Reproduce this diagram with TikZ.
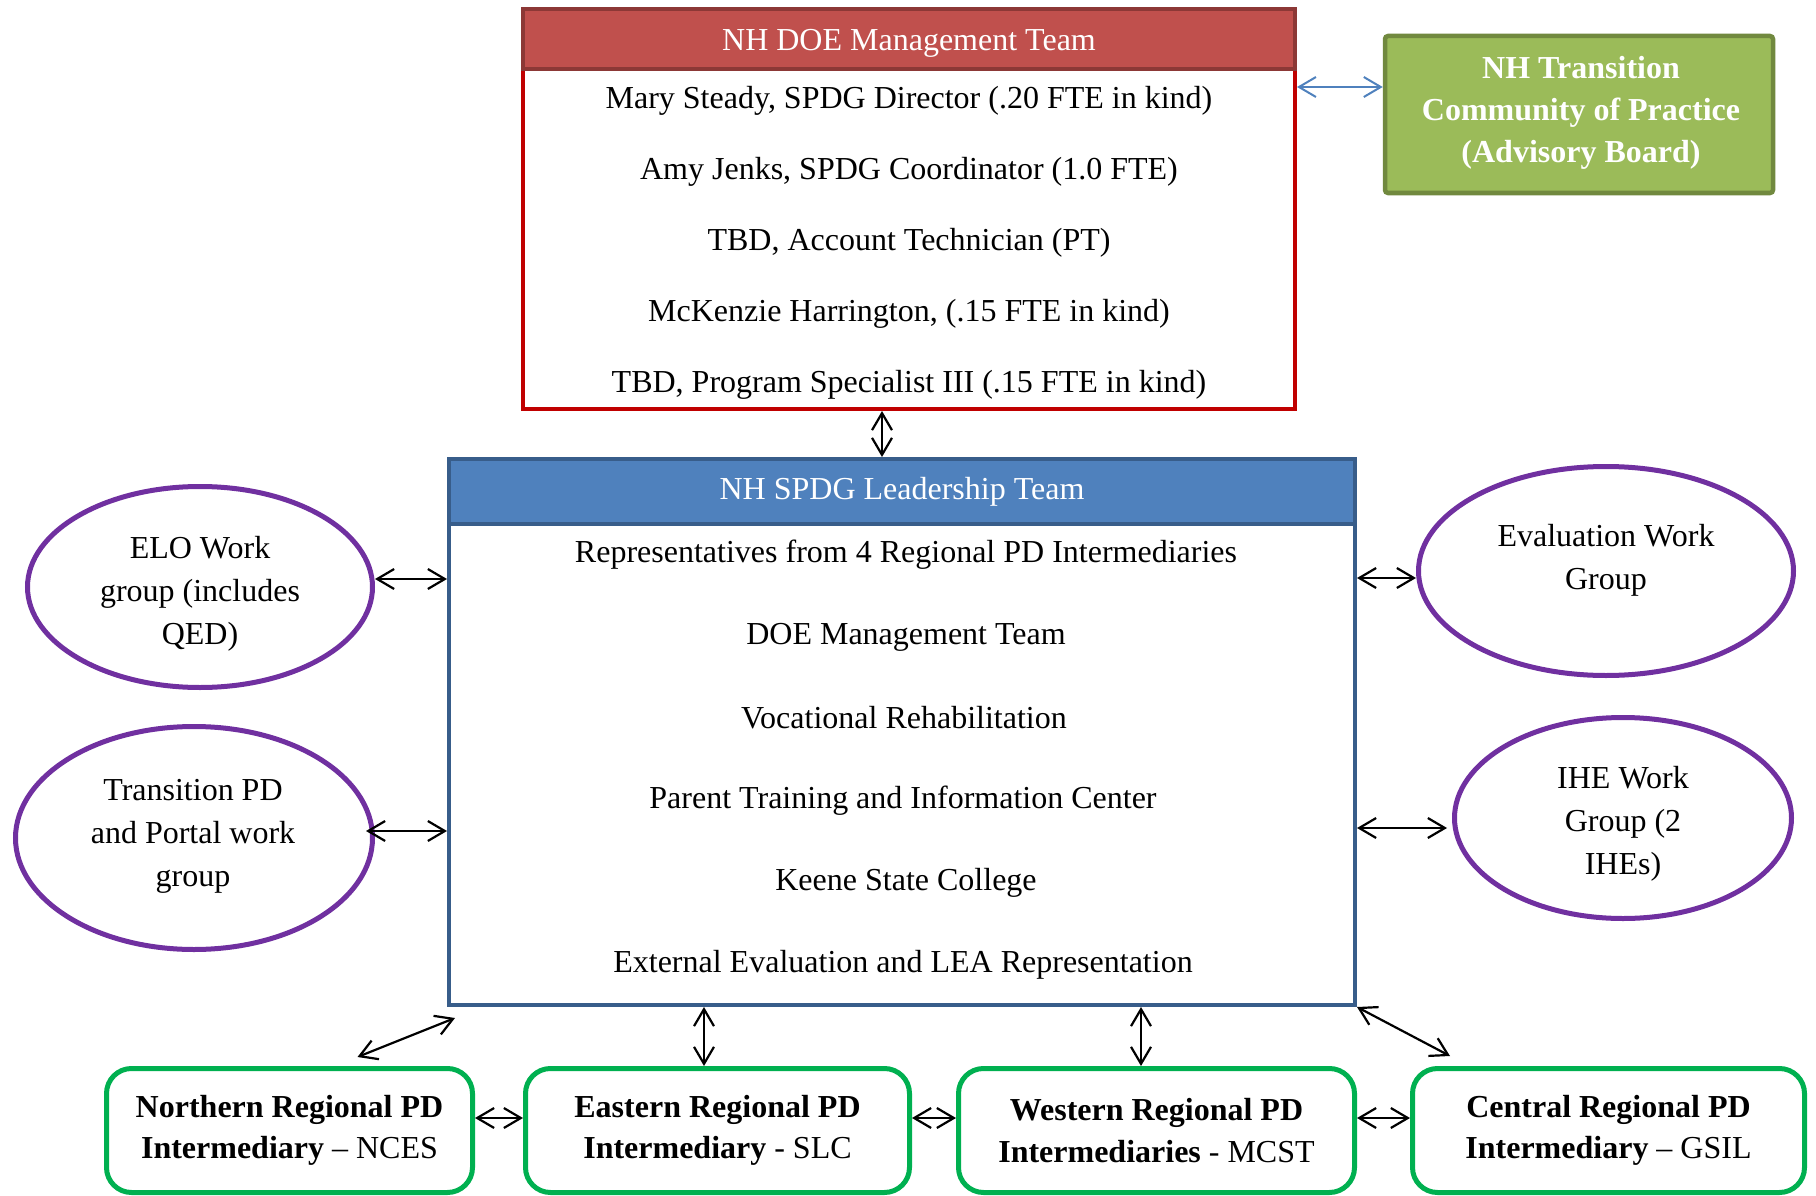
\documentclass[tikz,border=0pt]{standalone}
\usepackage{fontspec}
\setmainfont{Liberation Serif}
\usetikzlibrary{arrows.meta,shapes.geometric}
\definecolor{doeHeadFill}{HTML}{C0504D}
\definecolor{doeHeadLine}{HTML}{8C3836}
\definecolor{doeLine}{HTML}{C00000}
\definecolor{leadHeadFill}{HTML}{4F81BD}
\definecolor{leadLine}{HTML}{385D8A}
\definecolor{copFill}{HTML}{9BBB59}
\definecolor{copLine}{HTML}{71893F}
\definecolor{ellLine}{HTML}{7030A0}
\definecolor{regLine}{HTML}{00B050}
\definecolor{blueArr}{HTML}{4F81BD}
\begin{document}
\begin{tikzpicture}[x=1pt,y=-1pt,
  txt/.style={font=\fontsize{32}{43}\selectfont, inner sep=0pt, align=center},
  arr/.style={draw=black, line width=2.2pt,
    {Straight Barb[length=17pt,width=20pt]}-{Straight Barb[length=17pt,width=20pt]}},
  barr/.style={draw=blueArr, line width=2pt,
    {Straight Barb[length=17pt,width=20pt]}-{Straight Barb[length=17pt,width=20pt]}},
  wg/.style={ellipse, draw=ellLine, line width=5pt, inner sep=0pt},
  reg/.style={rectangle, rounded corners=25pt, draw=regLine, line width=5pt, fill=white,
    minimum height=124pt, inner sep=0pt, align=center, font=\fontsize{32}{41.5}\selectfont},
  head/.style={rectangle, line width=4pt, inner sep=0pt, text=white,
    font=\fontsize{32}{43}\selectfont},
]
\useasboundingbox (0,0) rectangle (1816,1196);

% NH DOE Management Team
\node[rectangle, draw=doeLine, line width=4pt, fill=white, minimum width=772pt, minimum height=400pt] (doe) at (909,209) {};
\node[head, fill=doeHeadFill, draw=doeHeadLine, minimum width=772pt, minimum height=60pt] (doehead) at (909,39) {};
\node[txt, text=white] (doetitle) at (909,43) {NH DOE Management Team};
\node[txt] (d1) at (909,101) {Mary Steady, SPDG Director (.20 FTE in kind)};
\node[txt] (d2) at (909,172) {Amy Jenks, SPDG Coordinator (1.0 FTE)};
\node[txt] (d3) at (909,243) {TBD, Account Technician (PT)};
\node[txt] (d4) at (909,314) {McKenzie Harrington, (.15 FTE in kind)};
\node[txt] (d5) at (909,385) {TBD, Program Specialist III (.15 FTE in kind)};

% Transition Community of Practice
\node[rectangle, rounded corners=3pt, draw=copLine, fill=copFill, line width=4.5pt, minimum width=388pt, minimum height=157pt] (cop) at (1579,114.5) {};
\node[txt, text=white, font=\fontsize{32}{42}\selectfont\bfseries] (coptext) at (1581,113) {NH Transition\\Community of Practice\\(Advisory Board)};

% NH SPDG Leadership Team
\node[rectangle, draw=leadLine, line width=4pt, fill=white, minimum width=906pt, minimum height=546pt] (lead) at (902,732) {};
\node[head, fill=leadHeadFill, draw=leadLine, minimum width=906pt, minimum height=65pt] (leadhead) at (902,491.5) {NH SPDG Leadership Team};
\node[txt] (l1) at (906,555) {Representatives from 4 Regional PD Intermediaries};
\node[txt] (l2) at (906,637) {DOE Management Team};
\node[txt] (l3) at (904,718) {Vocational Rehabilitation};
\node[txt] (l4) at (903,801) {Parent Training and Information Center};
\node[txt] (l5) at (906,883) {Keene State College};
\node[txt] (l6) at (903,965) {External Evaluation and LEA Representation};

% Work groups
\node[wg, minimum width=345pt, minimum height=201pt] (elo) at (200,587) {};
\node[txt] (elotext) at (200,594) {ELO Work\\group (includes\\QED)};
\node[wg, minimum width=357pt, minimum height=223pt] (trans) at (194,838) {};
\node[txt] (transtext) at (193,836) {Transition PD\\and Portal work\\group};
\node[wg, minimum width=375pt, minimum height=209pt] (eval) at (1606,571) {};
\node[txt] (evaltext) at (1606,560) {Evaluation Work\\Group};
\node[wg, minimum width=337pt, minimum height=201pt] (ihe) at (1623,818) {};
\node[txt] (ihetext) at (1623,824) {IHE Work\\Group (2\\IHEs)};

% Regional PD Intermediaries
\node[reg, minimum width=366pt] (north) at (289.5,1130.5) {\textbf{Northern Regional PD}\\\textbf{Intermediary} -- NCES};
\node[reg, minimum width=384pt] (east) at (717.5,1130.5) {\textbf{Eastern Regional PD}\\\textbf{Intermediary} - SLC};
\node[reg, minimum width=396pt] (west) at (1156.5,1130.5) {\textbf{Western Regional PD}\\\textbf{Intermediaries} - MCST};
\node[reg, minimum width=392pt] (central) at (1608.5,1130.5) {\textbf{Central Regional PD}\\\textbf{Intermediary} -- GSIL};

% Connectors
\draw[barr] ([yshift=27.5pt]cop.west) coordinate (c1) -- (c1 -| doe.east);
\draw[arr] ([xshift=-20pt]lead.north) coordinate (c2) -- (c2 |- doe.south);
\draw[arr] ([yshift=8pt]elo.east) coordinate (c3) -- (c3 -| lead.west);
\draw[arr] ([xshift=-9pt,yshift=7pt]trans.east) coordinate (c4) -- (c4 -| lead.west);
\draw[arr] ([yshift=-7pt]eval.west) coordinate (c5) -- (c5 -| lead.east);
\draw[arr] ([xshift=-5pt,yshift=-10pt]ihe.west) coordinate (c6) -- (c6 -| lead.east);
\draw[arr] ([xshift=68pt,yshift=9pt]north.north) -- ([xshift=8pt,yshift=-11pt]lead.south west);
\draw[arr] ([xshift=-13.5pt]east.north) coordinate (c7) -- (c7 |- lead.south);
\draw[arr] ([xshift=-15.5pt]west.north) coordinate (c8) -- (c8 |- lead.south);
\draw[arr] (lead.south east) -- ([xshift=40pt,yshift=10pt]central.north west);
\draw[arr] ([yshift=12.5pt]north.east) -- ([yshift=12.5pt]east.west);
\draw[arr] ([yshift=12.5pt]east.east) -- ([yshift=12.5pt]west.west);
\draw[arr] ([yshift=12.5pt]west.east) -- ([yshift=12.5pt]central.west);
\end{tikzpicture}
\end{document}
